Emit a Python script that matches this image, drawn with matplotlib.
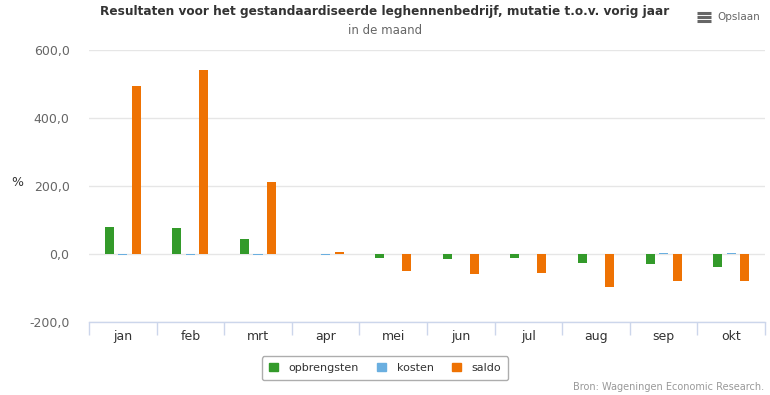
import matplotlib
matplotlib.use("Agg")
import matplotlib.pyplot as plt
import numpy as np
from matplotlib.lines import Line2D
from matplotlib.patches import Patch

categories = ["jan", "feb", "mrt", "apr", "mei", "jun", "jul", "aug", "sep", "okt"]
opbrengsten = [79, 76, 44, 0, -13, -16, -11, -25, -28, -37]
kosten = [-3, -3, -3, -2, 0, 0, 0, 1, 4, 4]
saldo = [494, 541, 212, 5, -49, -60, -57, -96, -78, -78]
yticks = [-200, 0, 200, 400, 600]
ytick_labels = ["-200,0", "0,0", "200,0", "400,0", "600,0"]

series = [("opbrengsten", opbrengsten, "#339a2a"),
          ("kosten", kosten, "#6aafe0"),
          ("saldo", saldo, "#ee7203")]

plt.rcParams['font.family'] = ['DejaVu Sans']
W, H = 770, 395
fig = plt.figure(figsize=(W / 100, H / 100), dpi=100)
ax = fig.add_axes([89 / W, 1 - 322 / H, (765 - 89) / W, (322 - 50) / H])

x = np.arange(len(categories))
bw = 0.134
offsets = [-0.2, 0.0, 0.2]
for (name, vals, col), off in zip(series, offsets):
    ax.bar(x + off, vals, width=bw, color=col, label=name, zorder=3)

ax.set_xlim(-0.5, len(categories) - 0.5)
ax.set_ylim(-200, 600)
ax.set_yticks(yticks)
ax.set_yticklabels(ytick_labels, fontsize=9, color="#666666")
ax.yaxis.grid(True, color="#e6e6e6", linewidth=1, zorder=0)
ax.tick_params(axis="y", length=0, pad=14)

ax.set_xticks(x)
ax.set_xticklabels(categories, fontsize=9, color="#333333")
ax.set_xticks(np.arange(-0.5, len(categories)), minor=True)
ax.tick_params(axis="x", which="major", length=0, pad=6)
ax.tick_params(axis="x", which="minor", length=9, color="#ccd6eb", width=1)

for s in ["top", "right", "left"]:
    ax.spines[s].set_visible(False)
ax.spines["bottom"].set_color("#ccd6eb")
ax.spines["bottom"].set_linewidth(1)

fig.text(17 / W, 1 - 183 / H, "%", fontsize=9, color="#333333", ha="center", va="center")

fig.text(385 / W, 1 - 11 / H, "Resultaten voor het gestandaardiseerde leghennenbedrijf, mutatie t.o.v. vorig jaar",
         fontsize=8.7, fontweight="bold", color="#333333", ha="center", va="center")
fig.text(385 / W, 1 - 30 / H, "in de maand", fontsize=8.5, color="#666666", ha="center", va="center")

# export menu
for dy in (-4, 0, 4):
    fig.add_artist(Line2D([697 / W, 711 / W], [1 - (17 + dy) / H] * 2, color="#666666", linewidth=2.2,
                          solid_capstyle="butt"))
fig.text(717 / W, 1 - 17 / H, "Opslaan", fontsize=7.5, color="#666666", ha="left", va="center")

handles = [Patch(facecolor=c, edgecolor=c, label=n) for n, _, c in series]
leg = fig.legend(handles=handles, loc="center", bbox_to_anchor=(385 / W, 1 - 368 / H), ncol=3,
                 fontsize=8, frameon=True, handlelength=0.8, handleheight=0.8, columnspacing=1.6,
                 handletextpad=1.0, borderpad=0.6, fancybox=True)
leg.get_frame().set_edgecolor("#999999")
leg.get_frame().set_linewidth(1)
for t in leg.get_texts():
    t.set_color("#333333")

fig.text(764 / W, 1 - 387 / H, "Bron: Wageningen Economic Research.", fontsize=7, color="#999999",
         ha="right", va="center")

fig.savefig("out.png", dpi=100)
